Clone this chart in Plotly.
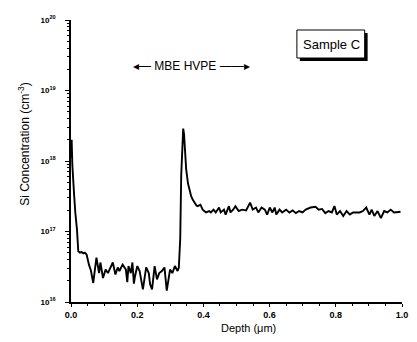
import plotly.graph_objects as go

# Depth (um) and log10 of Si concentration (cm^-3)
depth_um = [
    0.000, 0.002, 0.004, 0.006, 0.009, 0.013, 0.018, 0.022, 0.027, 0.032, 0.037, 0.042, 0.0473,
    0.0542, 0.0600, 0.0671, 0.0769, 0.0848, 0.0888, 0.0967, 0.1046, 0.1115, 0.1214, 0.1263,
    0.1342, 0.1411, 0.1461, 0.1560, 0.1658, 0.1700, 0.1737, 0.1806, 0.1856, 0.1900, 0.1935,
    0.2004, 0.2073, 0.2172, 0.2271, 0.2350, 0.2390, 0.2448, 0.2527, 0.2597, 0.2666, 0.2745,
    0.2824, 0.2893, 0.2992, 0.3061, 0.3140, 0.3219, 0.3258,
    0.3300, 0.3330, 0.3360, 0.3390, 0.3415, 0.3440, 0.3480, 0.3535, 0.3580, 0.3630, 0.3680,
    0.3733, 0.3790,
    0.3831, 0.3910, 0.3979, 0.4078, 0.4177, 0.4226, 0.4305, 0.4374, 0.4473, 0.4523, 0.4621,
    0.4671, 0.4770, 0.4818, 0.4898, 0.4967, 0.5066, 0.5164, 0.5290, 0.5411, 0.5490, 0.5589,
    0.5659, 0.5757, 0.5856, 0.5926, 0.6005, 0.6084, 0.6153, 0.6202, 0.6301, 0.6380, 0.6498,
    0.6597, 0.6696, 0.6794, 0.6892, 0.6993, 0.7090, 0.7239, 0.7387, 0.7484, 0.7585, 0.7683,
    0.7781, 0.7881, 0.7959, 0.8030, 0.8127, 0.8225, 0.8326, 0.8424, 0.8521, 0.8622, 0.8720,
    0.8818, 0.8919, 0.9016, 0.9084, 0.9164, 0.9262, 0.9363, 0.9461, 0.9559, 0.9659, 0.9757,
    0.9905, 0.9956,
]
si_log10 = [
    18.05, 18.30, 17.95, 17.83, 17.55, 17.27, 17.03, 16.72, 16.70, 16.71, 16.69, 16.70, 16.67,
    16.53, 16.45, 16.27, 16.63, 16.41, 16.56, 16.34, 16.46, 16.41, 16.51, 16.56,
    16.39, 16.49, 16.44, 16.53, 16.46, 16.28, 16.51, 16.41, 16.56, 16.26, 16.37,
    16.51, 16.44, 16.18, 16.49, 16.41, 16.25, 16.18, 16.51, 16.32, 16.41, 16.44,
    16.49, 16.16, 16.46, 16.41, 16.51, 16.44, 16.49,
    16.90, 17.80, 18.30, 18.46, 18.38, 18.12, 17.88, 17.68, 17.58, 17.50, 17.45,
    17.41, 17.37,
    17.36, 17.38, 17.31, 17.27, 17.29, 17.27, 17.31, 17.27, 17.34, 17.27, 17.31,
    17.24, 17.36, 17.27, 17.31, 17.36, 17.29, 17.31, 17.30, 17.41, 17.31, 17.34,
    17.27, 17.34, 17.31, 17.24, 17.34, 17.27, 17.34, 17.24, 17.31, 17.27, 17.31,
    17.27, 17.30, 17.26, 17.29, 17.27, 17.31, 17.34, 17.35, 17.31, 17.32, 17.26,
    17.29, 17.27, 17.36, 17.24, 17.29, 17.22, 17.29, 17.24, 17.27, 17.27, 17.27,
    17.29, 17.34, 17.24, 17.31, 17.22, 17.29, 17.19, 17.29, 17.27, 17.31, 17.27,
    17.27, 17.28,
]

x_tick_vals = [0.0, 0.2, 0.4, 0.6, 0.8, 1.0]
x_tick_text = ["0.0", "0.2", "0.4", "0.6", "0.8", "1.0"]
y_tick_vals = [1e16, 1e17, 1e18, 1e19, 1e20]
y_tick_text = ["10<sup>16</sup>", "10<sup>17</sup>", "10<sup>18</sup>", "10<sup>19</sup>", "10<sup>20</sup>"]

conc = [10 ** v for v in si_log10]

FONT = "Liberation Sans, Arial, sans-serif"

fig = go.Figure()
fig.add_trace(go.Scatter(
    x=depth_um, y=conc, mode="lines",
    line=dict(color="black", width=1.9),
    showlegend=False, hoverinfo="skip",
))

L, R, T, B = 71, 9, 20, 40
W, H = 417, 342
pw, ph = W - L - R, H - T - B

def px(xp):
    return (xp - L) / pw

def py(yp):
    return (H - B - yp) / ph

fig.update_layout(
    width=W, height=H,
    margin=dict(l=L, r=R, t=T, b=B),
    paper_bgcolor="white", plot_bgcolor="white",
    font=dict(family=FONT, color="black"),
    xaxis=dict(
        range=[0, 1], showgrid=False, zeroline=False,
        showline=True, linecolor="black", linewidth=1.5,
        tickmode="array", tickvals=x_tick_vals, ticktext=x_tick_text,
        ticks="outside", ticklen=3, tickwidth=1.2, tickcolor="black",
        ticklabelstandoff=0,
        tickfont=dict(family=FONT, size=9, color="black", weight="bold"),
        minor=dict(dtick=0.05, ticks="outside", ticklen=2, tickcolor="black", showgrid=False),
    ),
    yaxis=dict(
        type="log", range=[16, 20], showgrid=False, zeroline=False,
        showline=True, linecolor="black", linewidth=1.5,
        tickmode="array", tickvals=y_tick_vals, ticktext=y_tick_text,
        ticks="outside", ticklen=4, tickwidth=1.2, tickcolor="black",
        ticklabelstandoff=8,
        tickfont=dict(family=FONT, size=8, color="black", weight="bold"),
        minor=dict(dtick="D1", ticks="outside", ticklen=2, tickcolor="black", showgrid=False),
    ),
)

# Sample C box with drop shadow
fig.add_shape(type="rect", xref="paper", yref="paper",
              x0=px(304), x1=px(373), y0=py(61), y1=py(33),
              fillcolor="black", line=dict(width=0), layer="above")
fig.add_shape(type="rect", xref="paper", yref="paper",
              x0=px(301), x1=px(370), y0=py(58), y1=py(30),
              fillcolor="white", line=dict(color="black", width=1), layer="above")

fig.add_annotation(xref="paper", yref="paper", x=px(336), y=py(44),
                   text="Sample C", showarrow=False,
                   font=dict(family=FONT, size=13, color="black"),
                   xanchor="center", yanchor="middle")

fig.add_annotation(xref="paper", yref="paper", x=px(194), y=py(66),
                   text="◂— MBE HVPE ——▸", showarrow=False,
                   font=dict(family=FONT, size=12, color="black"),
                   xanchor="center", yanchor="middle")

fig.add_annotation(xref="paper", yref="paper", x=px(252), y=py(328),
                   text="Depth (μm)", showarrow=False,
                   font=dict(family=FONT, size=11, color="black"),
                   xanchor="center", yanchor="middle")

fig.add_annotation(xref="paper", yref="paper", x=px(23), y=py(144),
                   text="Si Concentration (cm<sup>-3</sup>)", showarrow=False,
                   textangle=-90,
                   font=dict(family=FONT, size=12, color="black"),
                   xanchor="center", yanchor="middle")

fig.write_html("out.html")
